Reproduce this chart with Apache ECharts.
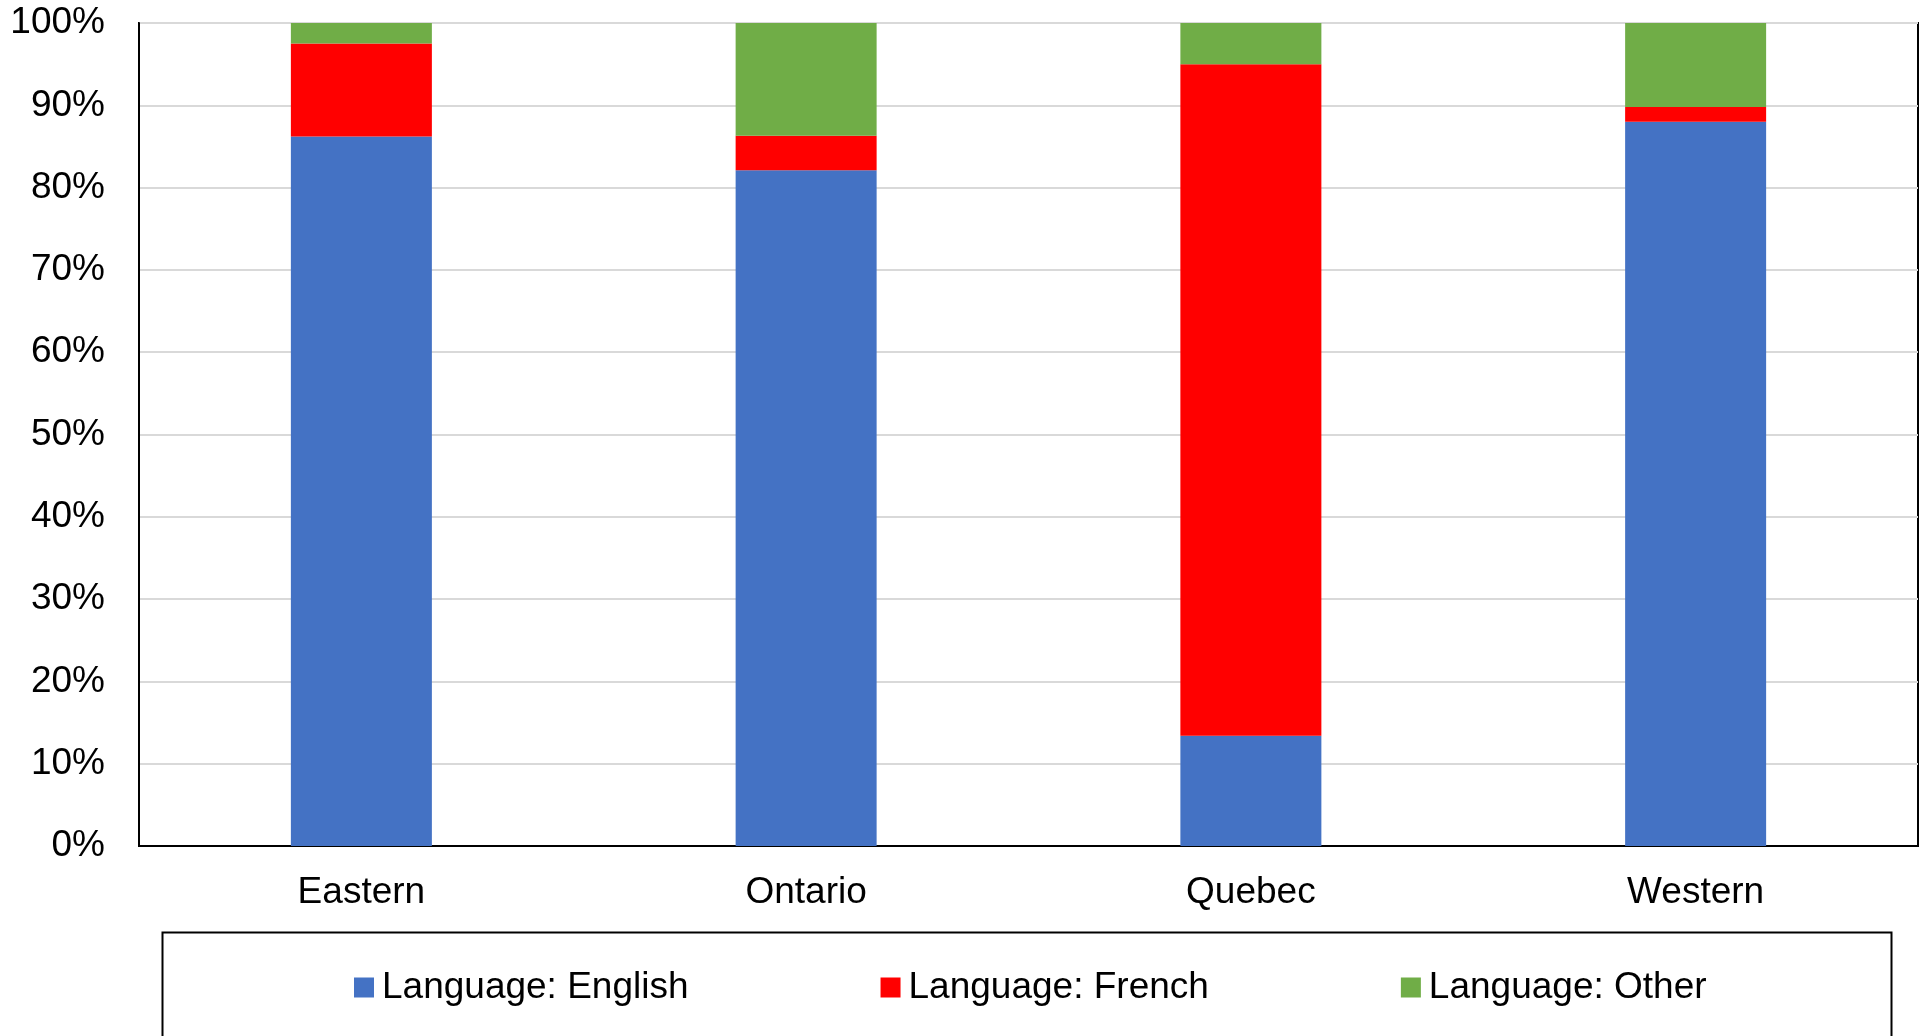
<!DOCTYPE html>
<html>
<head>
<meta charset="utf-8">
<title>Language by region</title>
<script src="https://cdn.jsdelivr.net/npm/echarts@6/dist/echarts.min.js"></script>
<style>
  html, body { margin: 0; padding: 0; background: #fff; }
  #chart { width: 1923px; height: 1036px; }
</style>
</head>
<body>
<div id="chart"></div>
<script>
// 地区
const regions = ['Eastern', 'Ontario', 'Quebec', 'Western'];
// 各语言占比 (%)
const english = [86.2, 82.1, 13.4, 88.0];
const french = [11.3, 4.2, 81.6, 1.8];
const other = [2.5, 13.7, 5.0, 10.2];

const seriesNames = ['Language: English', 'Language: French', 'Language: Other'];
const seriesColors = ['#4472C4', '#FF0000', '#70AD47'];

const fontFamily = '"Liberation Sans", Arial, sans-serif';

let chart;

let option = {
  animation: false,
  backgroundColor: '#fff',
  textStyle: { fontFamily: fontFamily, color: '#000' },
  grid: {
    left: 139,
    right: 5,
    top: 23,
    bottom: 190,
    show: true,
    borderColor: '#000',
    borderWidth: 2,
    containLabel: false,
    outerBoundsMode: 'none'
  },
  // 图例外框
  graphic: [
    {
      type: 'rect',
      left: 160,
      top: 930,
      shape: { width: 1729, height: 200 },
      style: { fill: 'none', stroke: '#000', lineWidth: 2 },
      silent: true
    }
  ],
  legend: {
    left: 354,
    top: 969,
    padding: 0,
    itemWidth: 20,
    itemHeight: 20,
    itemGap: 192,
    icon: 'rect',
    textStyle: { fontSize: 37, color: '#000', fontFamily: fontFamily, padding: [0, 0, 0, 3] },
    data: seriesNames
  },
  xAxis: {
    type: 'category',
    data: regions,
    axisLine: { lineStyle: { color: '#000', width: 2 } },
    axisTick: { show: false },
    axisLabel: { fontSize: 37, color: '#000', margin: 28, fontFamily: fontFamily }
  },
  yAxis: {
    type: 'value',
    min: 0,
    max: 100,
    interval: 10,
    axisLine: { show: true, lineStyle: { color: '#000', width: 2 } },
    axisTick: { show: false },
    axisLabel: { fontSize: 37, color: '#000', margin: 34, padding: [5, 0, 0, 0], formatter: '{value}%', fontFamily: fontFamily },
    splitLine: { lineStyle: { color: '#d9d9d9', width: 2 } }
  },
  series: [
    { name: seriesNames[0], type: 'bar', stack: 'total', data: english, barWidth: 141, itemStyle: { color: seriesColors[0] } },
    { name: seriesNames[1], type: 'bar', stack: 'total', data: french, barWidth: 141, itemStyle: { color: seriesColors[1] } },
    { name: seriesNames[2], type: 'bar', stack: 'total', data: other, barWidth: 141, itemStyle: { color: seriesColors[2] } }
  ]
};

function initChart() {
  chart = echarts.init(document.getElementById('chart'), null, { renderer: 'canvas' });
  chart.setOption(option);
  return chart;
}

initChart();
</script>
</body>
</html>
